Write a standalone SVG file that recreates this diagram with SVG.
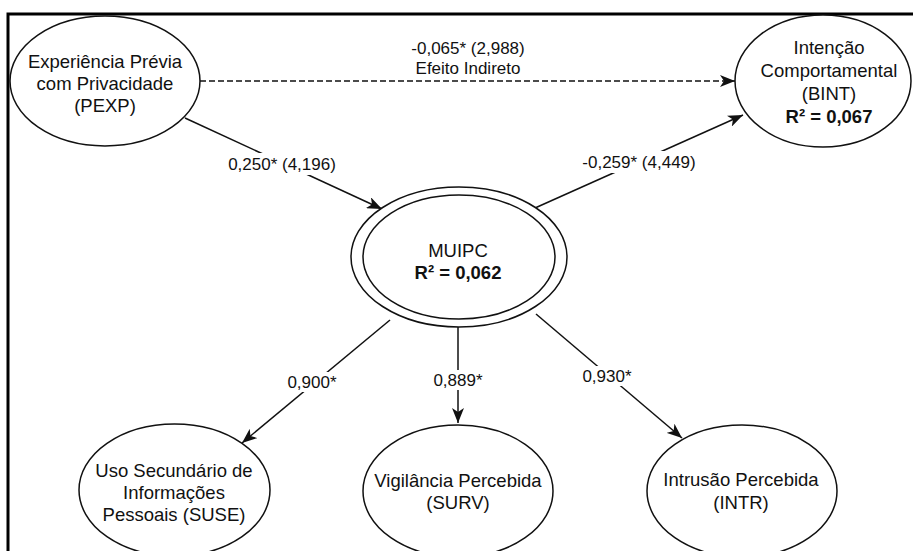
<svg xmlns="http://www.w3.org/2000/svg" width="913" height="551" viewBox="0 0 913 551">
<defs>
<style>
.node{fill:#fff;stroke:#111;stroke-width:1.5}
.t{font-family:"Liberation Sans",Arial,Helvetica,sans-serif;font-size:18.5px;fill:#111;text-anchor:middle}
.b{font-weight:bold}
.lbl{font-family:"Liberation Sans",Arial,Helvetica,sans-serif;font-size:17px;fill:#111;text-anchor:middle}
.edge{fill:none;stroke:#111;stroke-width:1.5}
.bg{fill:#fff}
</style>
<marker id="arr" markerUnits="userSpaceOnUse" markerWidth="16" markerHeight="12" viewBox="0 0 16 12" refX="15" refY="6" orient="auto">
<path d="M0,0 L15,6 L0,12 L4,6 Z" fill="#111"/>
</marker>
</defs>
<rect x="0" y="0" width="913" height="551" fill="#fff"/>
<path d="M8,551 L8,14 L913,14" fill="none" stroke="#000" stroke-width="3"/>

<g id="connectors">
<line class="edge" x1="200" y1="81" x2="735" y2="81" stroke-dasharray="6 3" marker-end="url(#arr)"/>
<line class="edge" x1="185" y1="118" x2="382" y2="209" marker-end="url(#arr)"/>
<line class="edge" x1="535" y1="208" x2="743" y2="115" marker-end="url(#arr)"/>
<line class="edge" x1="390" y1="320" x2="242" y2="443" marker-end="url(#arr)"/>
<line class="edge" x1="458" y1="327" x2="458" y2="423" marker-end="url(#arr)"/>
<line class="edge" x1="536" y1="314" x2="682" y2="438" marker-end="url(#arr)"/>
<g id="labels">
<text class="lbl" x="468" y="54">-0,065* (2,988)</text>
<text class="lbl" x="468" y="74">Efeito Indireto</text>
<rect class="bg" x="226" y="153" width="112" height="22"/>
<text class="lbl" x="282" y="170">0,250* (4,196)</text>
<rect class="bg" x="582" y="151" width="115" height="22"/>
<text class="lbl" x="639" y="168">-0,259* (4,449)</text>
<rect class="bg" x="283" y="372" width="58" height="20"/>
<text class="lbl" x="312" y="388">0,900*</text>
<rect class="bg" x="430" y="370" width="56" height="20"/>
<text class="lbl" x="458" y="386">0,889*</text>
<rect class="bg" x="579" y="366" width="56" height="20"/>
<text class="lbl" x="607" y="382">0,930*</text>
</g>
</g>

<g id="PEXP">
<ellipse class="node" cx="105" cy="81" rx="95" ry="65"/>
<text class="t" x="105" y="68">Experiência Prévia</text>
<text class="t" x="105" y="90">com Privacidade</text>
<text class="t" x="105" y="112">(PEXP)</text>
</g>

<g id="BINT">
<ellipse class="node" cx="823" cy="81" rx="88" ry="66"/>
<text class="t" x="829" y="54">Intenção</text>
<text class="t" x="829" y="77">Comportamental</text>
<text class="t" x="829" y="100">(BINT)</text>
<text class="t b" x="829" y="123">R² = 0,067</text>
</g>

<g id="MUIPC">
<ellipse class="node" cx="459" cy="257" rx="108" ry="70"/>
<ellipse class="node" cx="459" cy="257" rx="96" ry="62"/>
<text class="t" x="458" y="257">MUIPC</text>
<text class="t b" x="458" y="279">R² = 0,062</text>
</g>

<g id="SUSE">
<ellipse class="node" cx="174.5" cy="490" rx="95.5" ry="66"/>
<text class="t" x="174" y="477">Uso Secundário de</text>
<text class="t" x="174" y="499">Informações</text>
<text class="t" x="174" y="521">Pessoais (SUSE)</text>
</g>

<g id="SURV">
<ellipse class="node" cx="458" cy="491" rx="95" ry="66"/>
<text class="t" x="458" y="487">Vigilância Percebida</text>
<text class="t" x="458" y="509">(SURV)</text>
</g>

<g id="INTR">
<ellipse class="node" cx="742" cy="491" rx="95" ry="66"/>
<text class="t" x="741" y="486">Intrusão Percebida</text>
<text class="t" x="741" y="509">(INTR)</text>
</g>
</svg>
